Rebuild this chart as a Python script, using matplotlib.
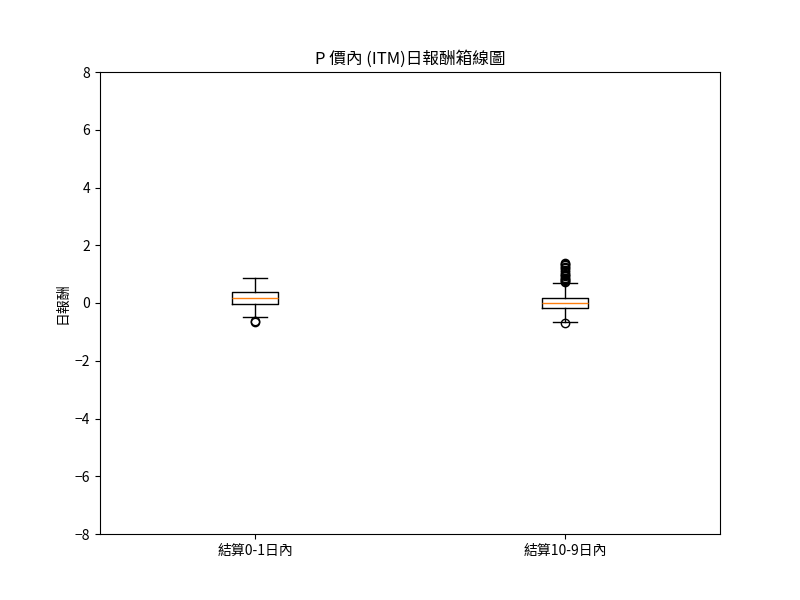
import matplotlib
matplotlib.use("Agg")
import matplotlib.pyplot as plt

plt.rcParams['font.family'] = ['Noto Sans CJK TC', 'DejaVu Sans']
plt.rcParams['axes.unicode_minus'] = True

labels = ["結算0-1日內", "結算10-9日內"]
q1 = [-0.03, -0.18]
med = [0.16, 0.01]
q3 = [0.37, 0.18]
whislo = [-0.48, -0.65]
whishi = [0.87, 0.68]
fliers = [
    [-0.65, -0.62],
    [-0.68, 0.74, 0.77, 0.80, 0.84, 0.88, 0.92, 0.97, 1.02, 1.08,
     1.14, 1.20, 1.26, 1.31, 1.36, 1.40],
]

stats = []
for i in range(len(labels)):
    stats.append(dict(label=labels[i], q1=q1[i], med=med[i], q3=q3[i],
                      whislo=whislo[i], whishi=whishi[i], fliers=fliers[i]))

fig, ax = plt.subplots(figsize=(8, 6), dpi=100)
ax.bxp(stats)
ax.set_ylim(-8, 8)
ax.set_title("P 價內 (ITM)日報酬箱線圖")
ax.set_ylabel("日報酬")

fig.savefig("out.png")
